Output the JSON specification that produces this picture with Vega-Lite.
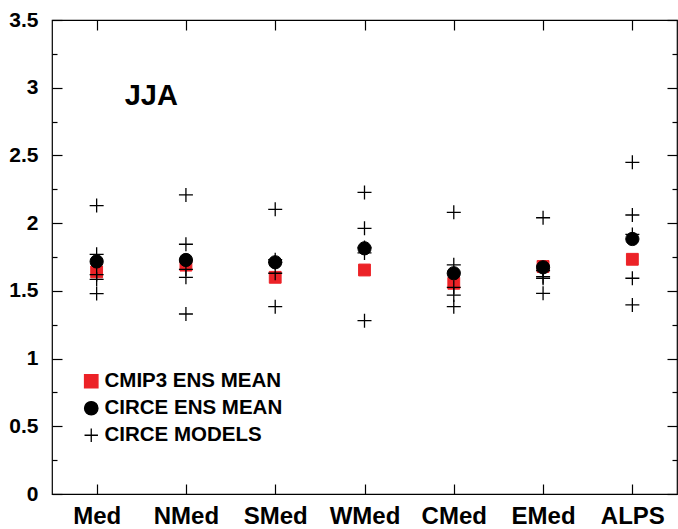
{
  "$schema": "https://vega.github.io/schema/vega-lite/v6.json",
  "width": 625,
  "height": 474,
  "autosize": {"type": "none"},
  "padding": {"left": 52, "top": 20, "right": 1, "bottom": 35},
  "config": {
    "font": "Liberation Sans",
    "view": {"stroke": "black", "strokeWidth": 1.2},
    "axis": {
      "domain": false,
      "grid": false,
      "title": null,
      "labelFont": "Liberation Sans",
      "labelFontWeight": "bold",
      "labelColor": "black",
      "tickColor": "black",
      "tickWidth": 1.2
    },
    "legend": {
      "labelFont": "Liberation Sans",
      "labelFontWeight": "bold",
      "labelFontSize": 20.5,
      "labelColor": "black",
      "labelLimit": 0,
      "symbolSize": 180,
      "symbolStrokeWidth": 1.3
    }
  },
  "datasets": {
    "jja": [
      {"region": "Med", "series": "CMIP3 ENS MEAN", "value": 1.64},
      {"region": "NMed", "series": "CMIP3 ENS MEAN", "value": 1.69},
      {"region": "SMed", "series": "CMIP3 ENS MEAN", "value": 1.60},
      {"region": "WMed", "series": "CMIP3 ENS MEAN", "value": 1.654},
      {"region": "CMed", "series": "CMIP3 ENS MEAN", "value": 1.556},
      {"region": "EMed", "series": "CMIP3 ENS MEAN", "value": 1.68},
      {"region": "ALPS", "series": "CMIP3 ENS MEAN", "value": 1.733},

      {"region": "Med", "series": "CIRCE MODELS", "value": 2.13},
      {"region": "Med", "series": "CIRCE MODELS", "value": 1.77},
      {"region": "Med", "series": "CIRCE MODELS", "value": 1.62},
      {"region": "Med", "series": "CIRCE MODELS", "value": 1.585},
      {"region": "Med", "series": "CIRCE MODELS", "value": 1.48},
      {"region": "NMed", "series": "CIRCE MODELS", "value": 2.208},
      {"region": "NMed", "series": "CIRCE MODELS", "value": 1.844},
      {"region": "NMed", "series": "CIRCE MODELS", "value": 1.659},
      {"region": "NMed", "series": "CIRCE MODELS", "value": 1.60},
      {"region": "NMed", "series": "CIRCE MODELS", "value": 1.329},
      {"region": "SMed", "series": "CIRCE MODELS", "value": 2.102},
      {"region": "SMed", "series": "CIRCE MODELS", "value": 1.73},
      {"region": "SMed", "series": "CIRCE MODELS", "value": 1.71},
      {"region": "SMed", "series": "CIRCE MODELS", "value": 1.63},
      {"region": "SMed", "series": "CIRCE MODELS", "value": 1.383},
      {"region": "WMed", "series": "CIRCE MODELS", "value": 2.227},
      {"region": "WMed", "series": "CIRCE MODELS", "value": 1.962},
      {"region": "WMed", "series": "CIRCE MODELS", "value": 1.82},
      {"region": "WMed", "series": "CIRCE MODELS", "value": 1.78},
      {"region": "WMed", "series": "CIRCE MODELS", "value": 1.28},
      {"region": "CMed", "series": "CIRCE MODELS", "value": 2.08},
      {"region": "CMed", "series": "CIRCE MODELS", "value": 1.692},
      {"region": "CMed", "series": "CIRCE MODELS", "value": 1.526},
      {"region": "CMed", "series": "CIRCE MODELS", "value": 1.469},
      {"region": "CMed", "series": "CIRCE MODELS", "value": 1.383},
      {"region": "EMed", "series": "CIRCE MODELS", "value": 2.04},
      {"region": "EMed", "series": "CIRCE MODELS", "value": 1.65},
      {"region": "EMed", "series": "CIRCE MODELS", "value": 1.605},
      {"region": "EMed", "series": "CIRCE MODELS", "value": 1.593},
      {"region": "EMed", "series": "CIRCE MODELS", "value": 1.482},
      {"region": "ALPS", "series": "CIRCE MODELS", "value": 2.449},
      {"region": "ALPS", "series": "CIRCE MODELS", "value": 2.06},
      {"region": "ALPS", "series": "CIRCE MODELS", "value": 1.917},
      {"region": "ALPS", "series": "CIRCE MODELS", "value": 1.593},
      {"region": "ALPS", "series": "CIRCE MODELS", "value": 1.396},

      {"region": "Med", "series": "CIRCE ENS MEAN", "value": 1.717},
      {"region": "NMed", "series": "CIRCE ENS MEAN", "value": 1.728},
      {"region": "SMed", "series": "CIRCE ENS MEAN", "value": 1.711},
      {"region": "WMed", "series": "CIRCE ENS MEAN", "value": 1.814},
      {"region": "CMed", "series": "CIRCE ENS MEAN", "value": 1.63},
      {"region": "EMed", "series": "CIRCE ENS MEAN", "value": 1.674},
      {"region": "ALPS", "series": "CIRCE ENS MEAN", "value": 1.883}
    ]
  },
  "data": {"name": "jja"},
  "resolve": {"axis": {"x": "independent", "y": "independent"}},
  "encoding": {
    "x": {
      "field": "region",
      "type": "nominal",
      "sort": null,
      "scale": {
        "type": "point",
        "padding": 0.5,
        "domain": ["Med", "NMed", "SMed", "WMed", "CMed", "EMed", "ALPS"]
      }
    },
    "y": {
      "field": "value",
      "type": "quantitative",
      "scale": {"domain": [0, 3.5], "nice": false, "zero": false}
    },
    "fill": {
      "field": "series",
      "type": "nominal",
      "title": null,
      "scale": {
        "domain": ["CMIP3 ENS MEAN", "CIRCE ENS MEAN", "CIRCE MODELS"],
        "range": ["#ec2227", "black", "black"]
      },
      "legend": {
        "orient": "none",
        "legendX": 29,
        "legendY": 351,
        "padding": 0,
        "labelOffset": 3,
        "rowPadding": 6
      }
    },
    "stroke": {
      "field": "series",
      "type": "nominal",
      "title": null,
      "scale": {
        "domain": ["CMIP3 ENS MEAN", "CIRCE ENS MEAN", "CIRCE MODELS"],
        "range": ["#ec2227", "black", "black"]
      }
    },
    "shape": {
      "field": "series",
      "type": "nominal",
      "title": null,
      "scale": {
        "domain": ["CMIP3 ENS MEAN", "CIRCE ENS MEAN", "CIRCE MODELS"],
        "range": ["square", "circle", "M-1,0H1M0,-1V1"]
      }
    }
  },
  "layer": [
    {
      "transform": [{"filter": "datum.series === 'CMIP3 ENS MEAN'"}],
      "mark": {"type": "point", "size": 140, "strokeWidth": 1, "opacity": 1},
      "encoding": {
        "x": {
          "field": "region",
          "type": "nominal",
          "axis": {
            "orient": "bottom",
            "labelFontSize": 24,
            "labelAngle": 0,
            "tickSize": -10,
            "labelPadding": 20
          }
        },
        "y": {
          "field": "value",
          "type": "quantitative",
          "axis": {
            "orient": "left",
            "values": [0, 0.25, 0.5, 0.75, 1, 1.25, 1.5, 1.75, 2, 2.25, 2.5, 2.75, 3, 3.25, 3.5],
            "labelExpr": "datum.value % 0.5 === 0 ? format(datum.value, '') : ''",
            "labelFontSize": 21,
            "labelBaseline": "middle",
            "tickSize": {"condition": {"test": "datum.value % 0.5 === 0", "value": -10}, "value": -5},
            "labelPadding": 24
          }
        }
      }
    },
    {
      "transform": [{"filter": "datum.series === 'CIRCE MODELS'"}],
      "mark": {"type": "point", "size": 196, "strokeWidth": 1.3, "opacity": 1},
      "encoding": {
        "x": {
          "field": "region",
          "type": "nominal",
          "axis": {"orient": "top", "labels": false, "tickSize": -10}
        },
        "y": {
          "field": "value",
          "type": "quantitative",
          "axis": {
            "orient": "right",
            "labels": false,
            "values": [0, 0.25, 0.5, 0.75, 1, 1.25, 1.5, 1.75, 2, 2.25, 2.5, 2.75, 3, 3.25, 3.5],
            "tickSize": {"condition": {"test": "datum.value % 0.5 === 0", "value": -10}, "value": -5}
          }
        }
      }
    },
    {
      "transform": [{"filter": "datum.series === 'CIRCE ENS MEAN'"}],
      "mark": {"type": "point", "size": 175, "strokeWidth": 1, "opacity": 1},
      "encoding": {
        "x": {"field": "region", "type": "nominal", "axis": null},
        "y": {"field": "value", "type": "quantitative", "axis": null}
      }
    },
    {
      "transform": [{"filter": "datum.series === 'CIRCE ENS MEAN' && datum.region === 'Med'"}],
      "mark": {
        "type": "text",
        "text": "JJA",
        "font": "Liberation Sans",
        "fontWeight": "bold",
        "fontSize": 29,
        "align": "left",
        "baseline": "alphabetic",
        "dx": 28,
        "fill": "black",
        "strokeWidth": 0
      },
      "encoding": {
        "x": {"datum": "Med", "type": "nominal", "axis": null},
        "y": {"datum": 2.87, "type": "quantitative", "axis": null},
        "fill": null,
        "stroke": null,
        "shape": null
      }
    }
  ]
}
